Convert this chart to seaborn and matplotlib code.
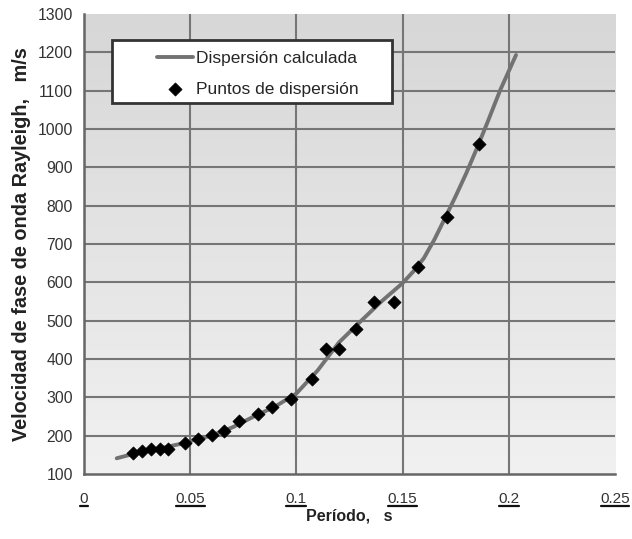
import numpy as np
import pandas as pd
import matplotlib
matplotlib.use("Agg")
import matplotlib.pyplot as plt
import seaborn as sns
from matplotlib.colors import LinearSegmentedColormap
from matplotlib.lines import Line2D
from matplotlib.patches import Rectangle

# Data
line_period = [0.0154, 0.025, 0.035, 0.045, 0.05, 0.06, 0.07, 0.08, 0.09, 0.1,
               0.11, 0.12, 0.13, 0.14, 0.15, 0.155, 0.16, 0.165, 0.17, 0.175,
               0.18, 0.185, 0.19, 0.196, 0.2034]
line_velocity = [141, 155, 166, 178, 186, 200, 222, 250, 276, 310,
                 370, 443, 497, 550, 598, 628, 663, 712, 768, 825,
                 885, 950, 1018, 1102, 1193]

pt_period = [0.0232, 0.0272, 0.0314, 0.0358, 0.0397, 0.0476, 0.0535, 0.0603, 0.0659,
             0.0730, 0.0819, 0.0887, 0.0975, 0.1075, 0.1141, 0.1202, 0.1279, 0.1365,
             0.1461, 0.1574, 0.1707, 0.1860]
pt_velocity = [154, 160, 166, 166, 166, 182, 191, 202, 213, 239, 256, 274, 296, 349,
               427, 427, 478, 549, 549, 640, 770, 961]

x_ticks = [0, 0.05, 0.1, 0.15, 0.2, 0.25]
x_tick_labels = ["0", "0.05", "0.1", "0.15", "0.2", "0.25"]
y_ticks = list(range(100, 1301, 100))

line_df = pd.DataFrame({"Periodo": line_period, "Velocidad": line_velocity})
pt_df = pd.DataFrame({"Periodo": pt_period, "Velocidad": pt_velocity})

sns.set_style("white")
plt.rcParams['font.family'] = ['Liberation Sans', 'DejaVu Sans']

fig = plt.figure(figsize=(6.32, 5.39), dpi=100)
ax = fig.add_axes([0.1329, 0.1206, 0.8402, 0.8534])

# gradient background
grad = np.linspace(0, 1, 256).reshape(-1, 1)
cmap = LinearSegmentedColormap.from_list("bg", ["#f1f1f1", "#d7d7d7"])
ax.imshow(grad, extent=[0, 1, 0, 1], transform=ax.transAxes, cmap=cmap,
          aspect="auto", origin="lower", zorder=0)

ax.set_xlim(0, 0.25)
ax.set_ylim(100, 1300)

for xv in x_ticks[1:-1]:
    ax.axvline(xv, color="#767676", lw=1.5, zorder=1)
for yv in y_ticks[1:-1]:
    ax.axhline(yv, color="#767676", lw=1.5, zorder=1)

sns.lineplot(data=line_df, x="Periodo", y="Velocidad", ax=ax, color="#727272",
             lw=2.8, sort=False, label="Dispersión calculada", zorder=3)
sns.scatterplot(data=pt_df, x="Periodo", y="Velocidad", ax=ax, marker="D",
                color="black", s=45, edgecolor="black", linewidth=0.5,
                label="Puntos de dispersión", zorder=4)

ax.set_xticks(x_ticks)
ax.set_xticklabels(x_tick_labels)
ax.set_yticks(y_ticks)
ax.tick_params(axis="x", length=4, width=1.5, color="#555555", labelsize=11,
               labelcolor="#333333", pad=9)
ax.tick_params(axis="y", length=5, width=1.5, color="#555555", labelsize=11.3,
               labelcolor="#333333", pad=3)

for s in ["top", "right"]:
    ax.spines[s].set_visible(False)
for s in ["left", "bottom"]:
    ax.spines[s].set_color("#666666")
    ax.spines[s].set_linewidth(1.8)

ax.set_xlabel("Período,   s", fontsize=11.5, fontweight="bold", color="#222222", labelpad=2)
ax.set_ylabel("Velocidad de fase de onda Rayleigh,   m/s", fontsize=14.3,
              fontweight="bold", color="#222222", labelpad=5)

# legend box
ax.add_patch(Rectangle((0.0527, 0.8065), 0.5273, 0.137, transform=ax.transAxes,
                       facecolor="white", edgecolor="#333333", lw=2, zorder=5))
leg = ax.legend(loc="upper left", bbox_to_anchor=(0.1375, 0.92), fontsize=12.5,
                frameon=False, handlelength=2.07, borderpad=0, labelspacing=0.9,
                handletextpad=0.2, borderaxespad=0)
leg.set_zorder(6)

# underline the x tick labels
fig.canvas.draw()
renderer = fig.canvas.get_renderer()
inv = fig.transFigure.inverted()
for lbl in ax.get_xticklabels():
    bb = lbl.get_window_extent(renderer)
    (x0, y0), (x1, y1) = inv.transform([(bb.x0 + 0.5, bb.y0 + 0.5), (bb.x1 - 0.5, bb.y0 + 0.5)])
    fig.add_artist(Line2D([x0, x1], [y0, y1], transform=fig.transFigure,
                          color="#111111", lw=1.6))

fig.savefig("out.png", dpi=100)
